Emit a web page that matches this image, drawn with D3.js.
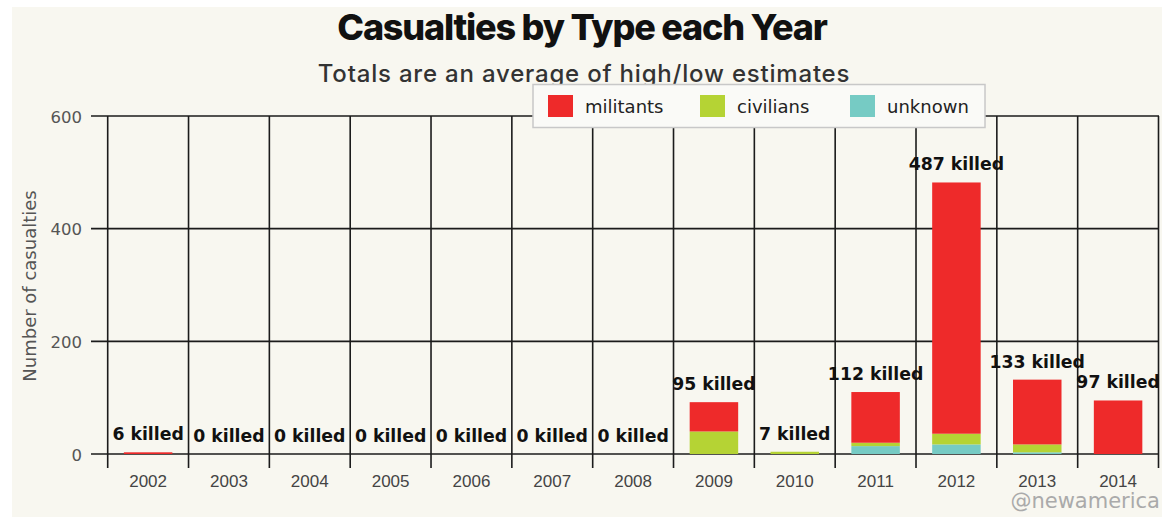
<!DOCTYPE html>
<html><head><meta charset="utf-8">
<script src="https://cdn.jsdelivr.net/npm/d3@7"></script>
<style>
html,body{margin:0;padding:0;background:#fff;}
svg{display:block;}
</style>
</head><body>
<svg id="chart" width="1162" height="517"></svg>
<script>
const years = ["2002","2003","2004","2005","2006","2007","2008","2009","2010","2011","2012","2013","2014"];
const militants = [3,0,0,0,0,0,0,52,0,90,446,115,95];
const civilians = [0,0,0,0,0,0,0,40,4,6,19,14,0];
const unknown   = [0,0,0,0,0,0,0,0,0,14,17,3,0];
const killedTotals = [6,0,0,0,0,0,0,95,7,112,487,133,97];
const seriesNames = ["militants","civilians","unknown"];
const seriesColors = ["#ee2a2a","#b5d334","#76cbc4"];
const yTicks = [0,200,400,600];

const svg = d3.select("#chart");
svg.append("rect").attr("x",12).attr("y",7).attr("width",1150).attr("height",510).attr("fill","#f8f7f0");

const x = d3.scaleBand().domain(years).range([107.7,1158.5]).paddingInner(0.4).paddingOuter(0.2);
const y = d3.scaleLinear().domain([0,600]).range([454,116]);

const rows = years.map((yr,i)=>({year:yr, unknown:unknown[i], civilians:civilians[i], militants:militants[i]}));
const stack = d3.stack().keys(["unknown","civilians","militants"]);
const layers = stack(rows);
const colorOf = k => seriesColors[seriesNames.indexOf(k)];

// horizontal grid lines + tick labels
const gy = svg.append("g").attr("transform","translate(91,0)");
gy.selectAll("line.h").data(yTicks).join("line")
  .attr("x1",0).attr("x2",1159-91).attr("y1",d=>y(d)).attr("y2",d=>y(d))
  .attr("stroke","#1b1b1b").attr("stroke-width",1.6);
gy.selectAll("text.tl").data(yTicks).join("text")
  .attr("x",-9).attr("y",d=>y(d)+2).attr("text-anchor","end").attr("dominant-baseline","middle")
  .attr("font-family","DejaVu Sans, Verdana, sans-serif").attr("font-size",16.5).attr("fill","#555")
  .text(d=>d);

// vertical category boundary lines
const bounds = d3.range(years.length+1).map(i=>x.range()[0]+i*x.step());
svg.append("g").selectAll("line").data(bounds).join("line")
  .attr("x1",d=>d).attr("x2",d=>d).attr("y1",y(600)).attr("y2",468)
  .attr("stroke","#1b1b1b").attr("stroke-width",1.6);

// bars
svg.append("g").selectAll("g").data(layers).join("g")
  .attr("fill",d=>colorOf(d.key))
  .selectAll("rect").data(d=>d).join("rect")
  .attr("x",d=>x(d.data.year)).attr("width",x.bandwidth())
  .attr("y",d=>y(d[1])).attr("height",d=>y(d[0])-y(d[1]));

// labels
svg.append("g").selectAll("text").data(rows).join("text")
  .attr("x",d=>x(d.year)+x.bandwidth()/2)
  .attr("y",d=>y(d.unknown+d.civilians+d.militants)-12)
  .attr("text-anchor","middle")
  .attr("font-family","DejaVu Sans, Verdana, sans-serif").attr("font-weight","bold").attr("font-size",17.3)
  .attr("fill","#111")
  .text((d,i)=>killedTotals[i]+" killed");

// year labels
svg.append("g").selectAll("text").data(years).join("text")
  .attr("x",d=>x(d)+x.bandwidth()/2).attr("y",487)
  .attr("text-anchor","middle")
  .attr("font-family","Liberation Sans, Arial, sans-serif").attr("font-size",17).attr("fill","#444")
  .text(d=>d);

// y axis title
svg.append("text").attr("transform","translate(36,286) rotate(-90)")
  .attr("text-anchor","middle").attr("font-family","DejaVu Sans, Verdana, sans-serif")
  .attr("font-size",18).attr("fill","#555").text("Number of casualties");

// title & subtitle
svg.append("text").attr("x",582).attr("y",40).attr("text-anchor","middle")
  .attr("font-family","Inter, sans-serif").attr("font-weight",800).attr("font-size",36)
  .attr("letter-spacing","-1.2px").attr("fill","#111").text("Casualties by Type each Year");
svg.append("clipPath").attr("id","subclip").append("rect").attr("x",0).attr("y",0).attr("width",1162).attr("height",85);
svg.append("text").attr("x",584).attr("y",82).attr("text-anchor","middle").attr("clip-path","url(#subclip)")
  .attr("font-family","Inter, sans-serif").attr("font-weight",500).attr("font-size",24)
  .attr("letter-spacing","0.8px").attr("fill","#333")
  .text("Totals are an average of high/low estimates");

// legend
const lg = svg.append("g");
lg.append("rect").attr("x",533).attr("y",84.5).attr("width",452).attr("height",43)
  .attr("fill","#fafaf7").attr("stroke","#c8c8c8").attr("stroke-width",1.5);
const legX = [548,700,850];
seriesNames.forEach((n,i)=>{
  lg.append("rect").attr("x",legX[i]).attr("y",95).attr("width",25).attr("height",22).attr("fill",seriesColors[i]);
  lg.append("text").attr("x",legX[i]+37).attr("y",113).attr("font-family","DejaVu Sans, Verdana, sans-serif")
    .attr("font-size",18).attr("fill","#222").text(n);
});

// credit
svg.append("text").attr("x",1160).attr("y",508).attr("text-anchor","end")
  .attr("font-family","DejaVu Sans, Verdana, sans-serif").attr("font-size",21).attr("fill","#aaa")
  .text("@newamerica");
</script>
</body></html>
